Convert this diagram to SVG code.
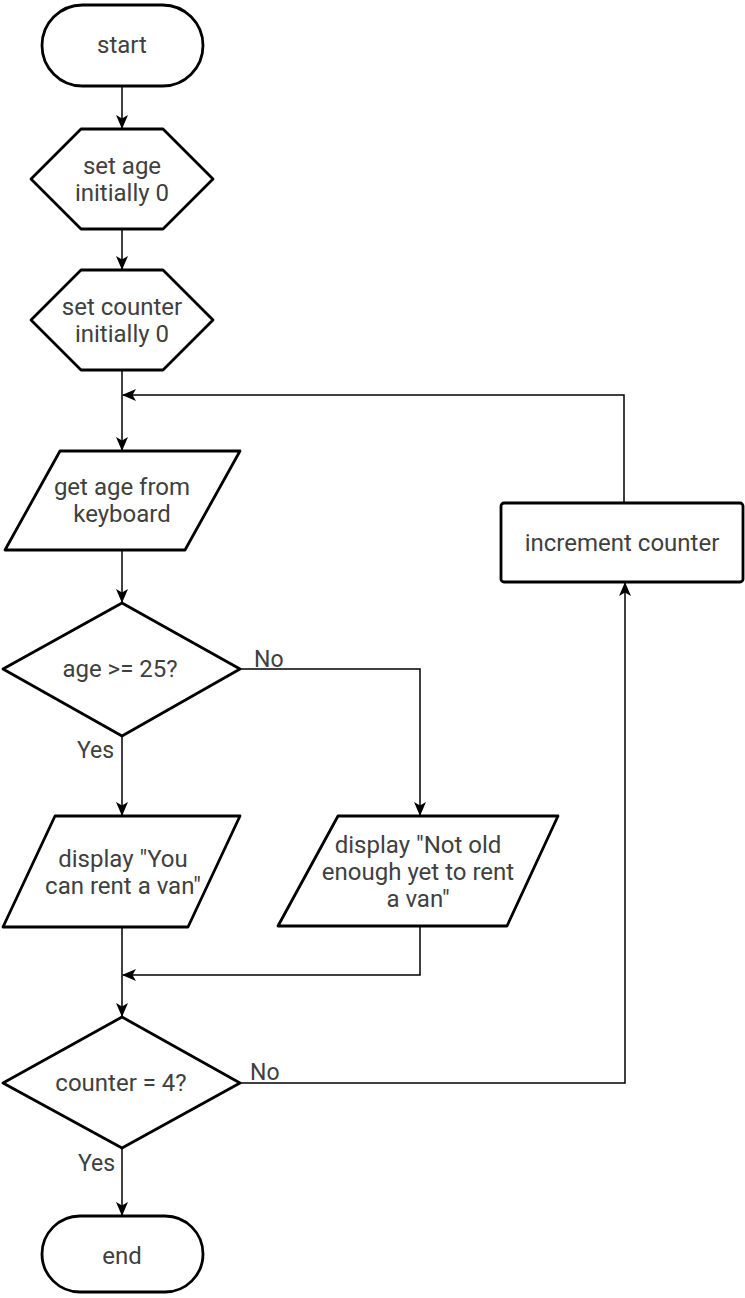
<svg xmlns="http://www.w3.org/2000/svg" width="745" height="1298" viewBox="0 0 745 1298">
  <style>
    .shape { fill: #ffffff; stroke: #000000; stroke-width: 2.8; stroke-linejoin: round; }
    .edge { fill: none; stroke: #000000; stroke-width: 1.5; }
    .label { font-family: Roboto, "Liberation Sans", Arial, sans-serif; font-size: 24px; fill: #404040; text-anchor: middle; dominant-baseline: central; }
    .tag { font-family: Roboto, "Liberation Sans", Arial, sans-serif; font-size: 23px; fill: #404040; dominant-baseline: central; }
  </style>
  <defs>
    <marker id="arrow" viewBox="0 0 14 12" refX="13" refY="6" markerWidth="14" markerHeight="12" markerUnits="userSpaceOnUse" orient="auto">
      <path d="M0,0 L14,6 L0,12 L3.5,6 Z" fill="#000000"/>
    </marker>
  </defs>
  <rect width="745" height="1298" fill="#ffffff"/>

  <!-- connectors -->
  <g id="connectors">
    <path class="edge" d="M122,86 L122,128" marker-end="url(#arrow)"/>
    <path class="edge" d="M122,229 L122,269" marker-end="url(#arrow)"/>
    <path class="edge" d="M122,370 L122,450" marker-end="url(#arrow)"/>
    <path class="edge" d="M624,503 L624,395 L123,395" marker-end="url(#arrow)"/>
    <path class="edge" d="M122,550 L122,602" marker-end="url(#arrow)"/>
    <path class="edge" d="M240,669 L420,669 L420,815" marker-end="url(#arrow)"/>
    <path class="edge" d="M122,736 L122,815" marker-end="url(#arrow)"/>
    <path class="edge" d="M420,926 L420,975 L123,975" marker-end="url(#arrow)"/>
    <path class="edge" d="M122,927 L122,1016" marker-end="url(#arrow)"/>
    <path class="edge" d="M240,1083 L625,1083 L625,583" marker-end="url(#arrow)"/>
    <path class="edge" d="M122,1148 L122,1215" marker-end="url(#arrow)"/>
    <text class="tag" x="254" y="659">No</text>
    <text class="tag" x="77" y="750">Yes</text>
    <text class="tag" x="250" y="1072">No</text>
    <text class="tag" x="78" y="1163">Yes</text>
  </g>

  <g id="start">
    <rect class="shape" x="42" y="5" width="161" height="81" rx="40.5"/>
    <text class="label" x="122" y="45">start</text>
  </g>

  <g id="set-age">
    <polygon class="shape" points="31,179 81,129 163,129 213,179 163,229 81,229"/>
    <text class="label" x="122" y="166">set age</text>
    <text class="label" x="122" y="193">initially 0</text>
  </g>

  <g id="set-counter">
    <polygon class="shape" points="31,320 81,270 163,270 213,320 163,370 81,370"/>
    <text class="label" x="122" y="307">set counter</text>
    <text class="label" x="122" y="334">initially 0</text>
  </g>

  <g id="get-age">
    <polygon class="shape" points="60,451 240,451 185,550 5,550"/>
    <text class="label" x="122" y="487">get age from</text>
    <text class="label" x="122" y="514">keyboard</text>
  </g>

  <g id="age-check">
    <polygon class="shape" points="122,603 240,669 122,736 3,669"/>
    <text class="label" x="120" y="669">age &gt;= 25?</text>
  </g>

  <g id="display-yes">
    <polygon class="shape" points="55,816 240,816 188,927 3,927"/>
    <text class="label" x="123" y="859">display "You</text>
    <text class="label" x="123" y="886">can rent a van"</text>
  </g>

  <g id="display-no">
    <polygon class="shape" points="338,816 558,816 507,926 278,926"/>
    <text class="label" x="418" y="845">display "Not old</text>
    <text class="label" x="418" y="872">enough yet to rent</text>
    <text class="label" x="418" y="899">a van"</text>
  </g>

  <g id="counter-check">
    <polygon class="shape" points="122,1017 240,1083 122,1148 3,1083"/>
    <text class="label" x="121" y="1083">counter = 4?</text>
  </g>

  <g id="increment">
    <rect class="shape" x="501" y="503" width="242" height="79" rx="3"/>
    <text class="label" x="622" y="543">increment counter</text>
  </g>

  <g id="end">
    <rect class="shape" x="42" y="1216" width="161" height="76" rx="38"/>
    <text class="label" x="122" y="1256">end</text>
  </g>
</svg>
